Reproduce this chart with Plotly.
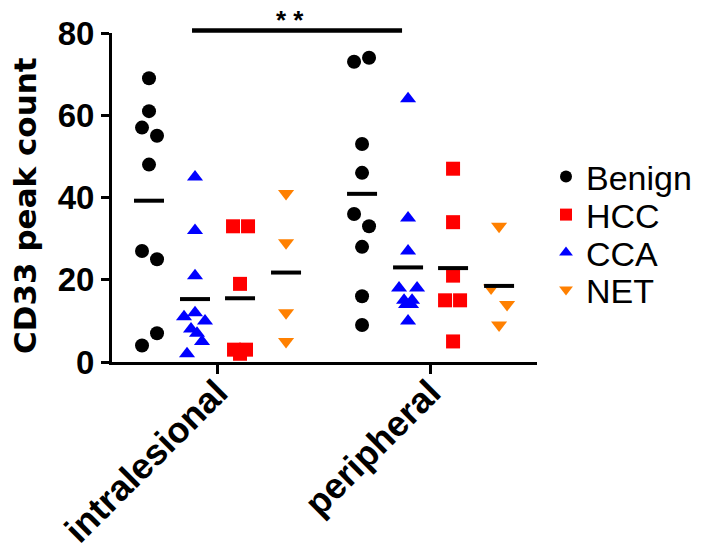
import numpy as np
import plotly.graph_objects as go

# ---------------- data ----------------
positions = ["intralesional", "peripheral"]
groups = ["Benign", "HCC", "CCA", "NET"]

benign_intra = [69, 61, 57, 55, 48, 27, 25, 7, 4]
benign_peri = [74, 73, 53, 46, 36, 33, 28, 16, 9]
hcc_intra = [33, 33, 19, 3, 3, 2]
hcc_peri = [47, 34, 21, 15, 15, 5]
cca_intra = [45, 32, 21, 12, 11, 10, 8, 7, 5, 2]
cca_peri = [64, 35, 27, 18, 18, 15, 15, 14, 14, 10]
net_intra = [41, 29, 12, 5]
net_peri = [33, 18, 14, 9]

y_ticks = [0, 20, 40, 60, 80]
significance = "* *"

# ---------------- layout helpers (positions / styles) ----------------
PX_PER_UNIT = 213.0          # x-axis pixels per category step
col_offset_px = {"Benign": -68, "CCA": -22, "HCC": 23, "NET": 69}
jitter_px = {
    ("Benign", 0): [0, 0, -7, 8, 0, -7, 8, 8, -7],
    ("Benign", 1): [7, -8, 0, 0, -8, 7, 0, 0, 0],
    ("HCC", 0): [-7, 8, 0, -6, 6, 0],
    ("HCC", 1): [0, 0, 0, -8, 7, 0],
    ("CCA", 0): [0, 0, 0, 0, -11, 10, -4, 2, 7, -8],
    ("CCA", 1): [0, 0, 0, -9, 9, -4, 4, -2, 3, 0],
    ("NET", 0): [0, 0, 0, 0],
    ("NET", 1): [0, -8, 8, 0],
}
values = {
    ("Benign", 0): benign_intra, ("Benign", 1): benign_peri,
    ("HCC", 0): hcc_intra, ("HCC", 1): hcc_peri,
    ("CCA", 0): cca_intra, ("CCA", 1): cca_peri,
    ("NET", 0): net_intra, ("NET", 1): net_peri,
}
colors = {"Benign": "#000000", "HCC": "#FF0000", "CCA": "#0000FF", "NET": "#FF8000"}
symbols = {"Benign": "circle", "HCC": "square", "CCA": "triangle-up", "NET": "triangle-down"}
sizes = {"Benign": 14, "HCC": 14, "CCA": 14, "NET": 14}

# plot area in pixels
L, R, T, B = 112, 537, 33, 362
PW, PH = R - L, B - T


def py(pix):
    """pixel row -> paper y"""
    return (B - pix) / PH


legend_y = {"Benign": py(177), "HCC": py(215), "CCA": py(253), "NET": py(290)}
legend_names = {"Benign": "legend", "HCC": "legend2", "CCA": "legend3", "NET": "legend4"}

FONT = "Liberation Sans, Arial, Helvetica, sans-serif"

fig = go.Figure()

# points
for g in groups:
    xs, ys = [], []
    for pi in range(len(positions)):
        vals = values[(g, pi)]
        jit = jitter_px[(g, pi)]
        for v, j in zip(vals, jit):
            xs.append(pi + 1 + (col_offset_px[g] + j) / PX_PER_UNIT)
            ys.append(v)
    fig.add_trace(go.Scatter(
        x=xs, y=ys, mode="markers", name=g, legend=legend_names[g],
        marker=dict(symbol=symbols[g], size=sizes[g], color=colors[g], line=dict(width=0)),
        cliponaxis=False,
    ))

# mean lines
half = 15 / PX_PER_UNIT
for g in groups:
    for pi in range(len(positions)):
        m = float(np.mean(values[(g, pi)]))
        cx = pi + 1 + col_offset_px[g] / PX_PER_UNIT
        fig.add_trace(go.Scatter(
            x=[cx - half, cx + half], y=[m, m], mode="lines",
            line=dict(color="black", width=4), showlegend=False,
            hoverinfo="skip", cliponaxis=False,
        ))

# significance bar
bx0 = 1 + (192 - 217) / PX_PER_UNIT
bx1 = 2 + (402 - 430) / PX_PER_UNIT
fig.add_shape(type="line", xref="x", yref="paper", x0=bx0, x1=bx1, y0=py(30.5), y1=py(30.5),
              line=dict(color="black", width=4.5))
fig.add_annotation(x=1 + (290 - 217) / PX_PER_UNIT, y=py(20), xref="x", yref="paper",
                   text=significance, showarrow=False, xanchor="center", yanchor="middle",
                   font=dict(family=FONT, size=26, color="black", weight="bold"))

# y-axis title
fig.add_annotation(x=(25 - L) / PW, y=py(206), xref="paper", yref="paper",
                   text="CD33 peak count", textangle=-90, showarrow=False,
                   xanchor="center", yanchor="middle",
                   font=dict(family="DejaVu Sans, sans-serif", size=31, color="black", weight="bold"))

legend_common = dict(x=(546 - L) / PW, xanchor="left", yanchor="middle",
                     font=dict(family=FONT, size=34, color="black"),
                     bgcolor="rgba(0,0,0,0)", borderwidth=0, itemsizing="constant")

fig.update_layout(
    width=702, height=554,
    margin=dict(l=L, r=702 - R, t=T, b=554 - B, autoexpand=False),
    plot_bgcolor="white", paper_bgcolor="white",
    showlegend=True,
    legend=dict(y=legend_y["Benign"], **legend_common),
    legend2=dict(y=legend_y["HCC"], **legend_common),
    legend3=dict(y=legend_y["CCA"], **legend_common),
    legend4=dict(y=legend_y["NET"], **legend_common),
    xaxis=dict(
        range=[0.507, 2.502], tickvals=[1, 2], ticktext=positions,
        showline=True, linecolor="black", linewidth=3,
        ticks="outside", ticklen=9, tickwidth=3, tickcolor="black",
        tickangle=-45, showgrid=False, zeroline=False, automargin=False,
        ticklabelstandoff=-17,
        tickfont=dict(family=FONT, size=36, color="black", weight="bold"),
    ),
    yaxis=dict(
        range=[0, 80], tickvals=y_ticks,
        showline=True, linecolor="black", linewidth=3,
        ticks="outside", ticklen=8, tickwidth=3, tickcolor="black",
        showgrid=False, zeroline=False, automargin=False,
        tickfont=dict(family=FONT, size=33, color="black", weight="bold"),
    ),
)

fig.write_html("out.html", config={"displayModeBar": False},
               post_script="document.body.style.margin='0px';")
